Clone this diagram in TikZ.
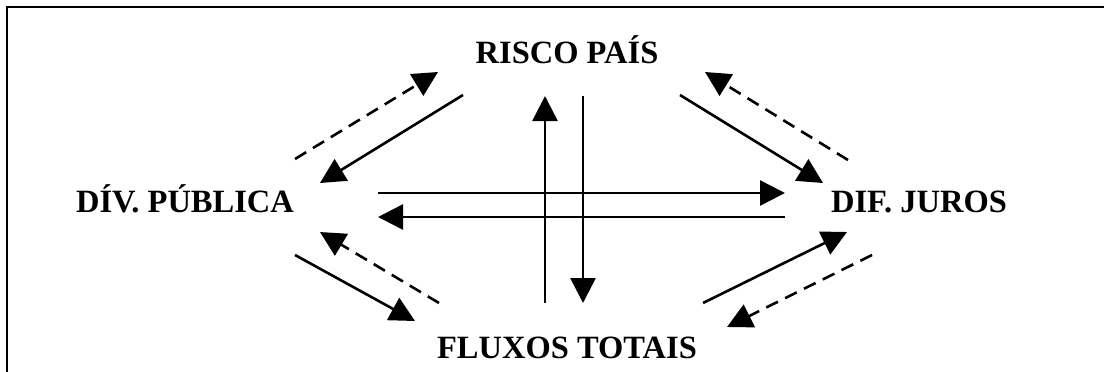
\documentclass[tikz,border=0pt]{standalone}
\usepackage{fontspec}
\setmainfont{Liberation Serif}
\usetikzlibrary{arrows.meta}

\begin{document}
\begin{tikzpicture}[x=1pt, y=-1pt,
  every node/.style={font=\fontsize{32.5}{38}\selectfont\bfseries, inner sep=0pt, anchor=base},
  seta/.style={-{Triangle[length=25pt, width=25pt]}, line width=2.6pt},
  tracejada/.style={seta, dash pattern=on 13pt off 8pt}]
\useasboundingbox (0,0) rectangle (1104,372);
% moldura
\draw[line width=2.4pt] (7,372) -- (7,7) -- (1104,7);
% variaveis
\node (risco) at (567,63) {RISCO PAÍS};
\node (divida) at (185,212) {DÍV. PÚBLICA};
\node (juros) at (919,212) {DIF. JUROS};
\node (fluxos) at (567,358) {FLUXOS TOTAIS};
% pontos das setas
\coordinate (h1a) at (378,193); \coordinate (h1b) at (785,193);
\coordinate (h2a) at (785,217); \coordinate (h2b) at (378,217);
\coordinate (v1a) at (545,303); \coordinate (v1b) at (545,96);
\coordinate (v2a) at (583,96);  \coordinate (v2b) at (583,303);
\coordinate (ul1) at (463,95);  \coordinate (ul2) at (320,183);
\coordinate (ul3) at (295,159); \coordinate (ul4) at (438,72);
\coordinate (ur1) at (680,95);  \coordinate (ur2) at (823,183);
\coordinate (ur3) at (848,160); \coordinate (ur4) at (705,72);
\coordinate (ll1) at (439,303); \coordinate (ll2) at (320,232);
\coordinate (ll3) at (295,255); \coordinate (ll4) at (415,321);
\coordinate (lr1) at (703,303); \coordinate (lr2) at (847,232);
\coordinate (lr3) at (872,255); \coordinate (lr4) at (727,327);
% setas centrais
\draw[seta] (h1a) -- (h1b);
\draw[seta] (h2a) -- (h2b);
\draw[seta] (v1a) -- (v1b);
\draw[seta] (v2a) -- (v2b);
% setas diagonais
\draw[seta] (ul1) -- (ul2);
\draw[tracejada] (ul3) -- (ul4);
\draw[seta] (ur1) -- (ur2);
\draw[tracejada] (ur3) -- (ur4);
\draw[tracejada] (ll1) -- (ll2);
\draw[seta] (ll3) -- (ll4);
\draw[seta] (lr1) -- (lr2);
\draw[tracejada] (lr3) -- (lr4);
\end{tikzpicture}
\end{document}
